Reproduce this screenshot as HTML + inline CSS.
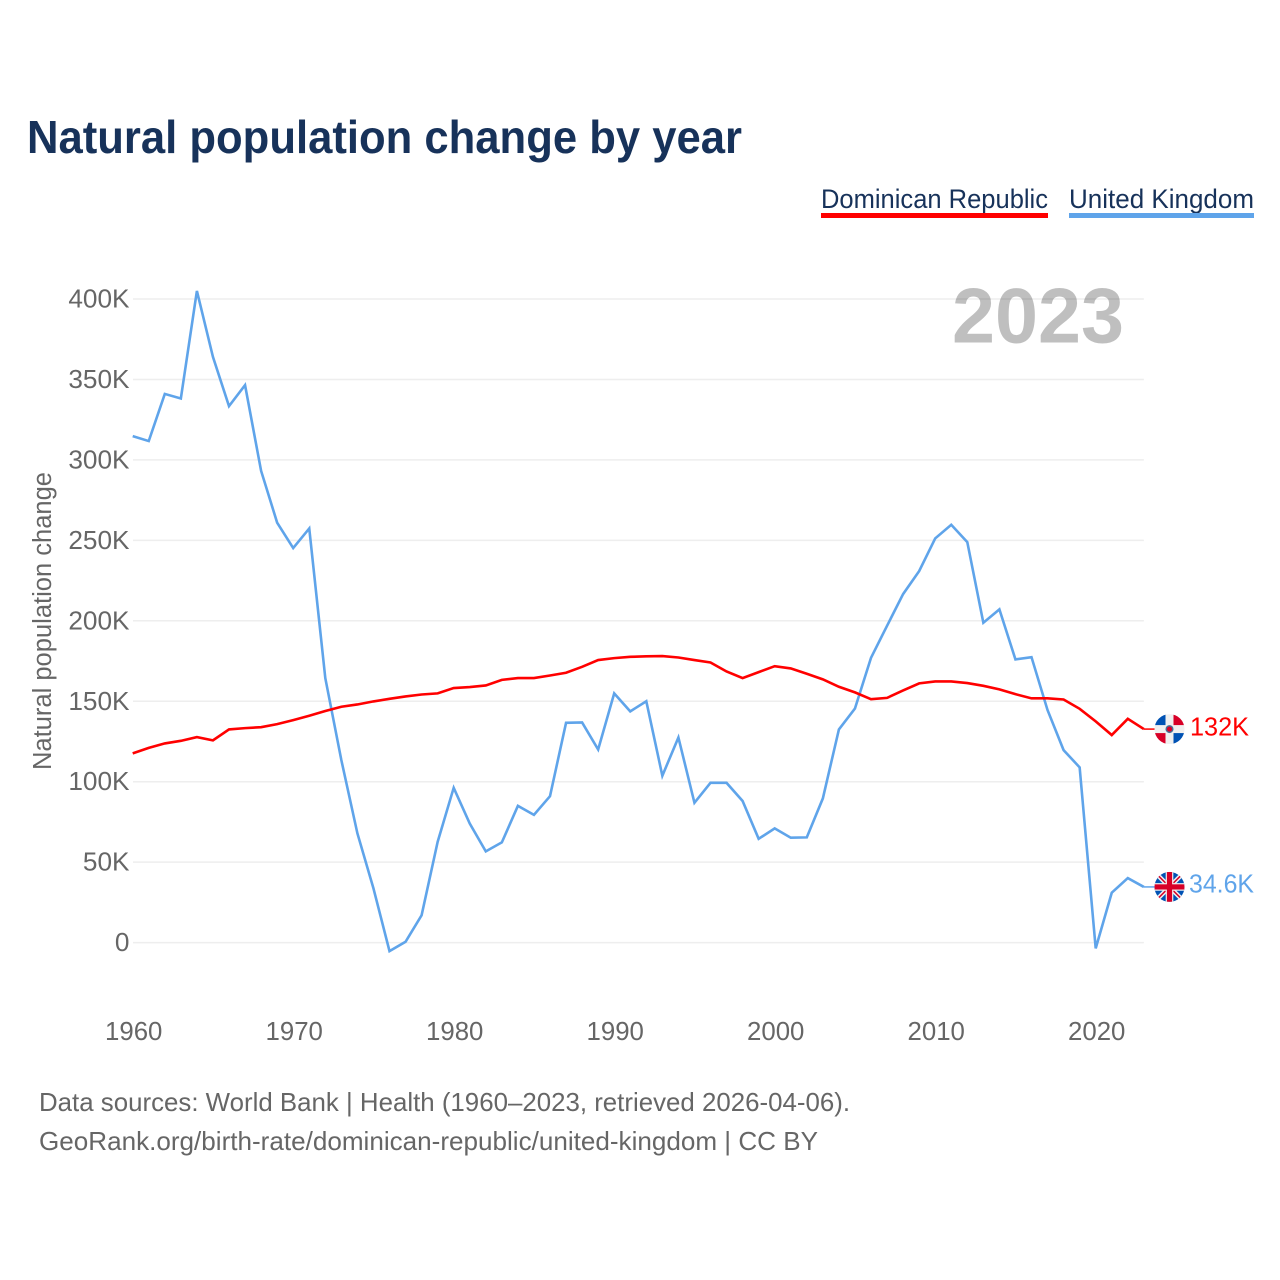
<!DOCTYPE html>
<html lang="en">
<head>
<meta charset="utf-8">
<title>Natural population change by year</title>
<style>
  html, body { margin: 0; padding: 0; background: #fff; }
  svg { display: block; font-family: "Liberation Sans", sans-serif; }
</style>
</head>
<body>
<svg id="chart" xmlns="http://www.w3.org/2000/svg" width="1280" height="1280" viewBox="0 0 1280 1280">
  <defs>
    <clipPath id="flag-clip"><circle cx="0" cy="0" r="15"></circle></clipPath>
  </defs>
  <rect width="1280" height="1280" fill="#ffffff"></rect>
  <text x="27" y="153" font-size="46" font-weight="700" fill="#17325a" textLength="715" lengthAdjust="spacingAndGlyphs">Natural population change by year</text>

  <g>
    <g>
      <text x="821" y="208" font-size="26.5" fill="#17325a" textLength="227" lengthAdjust="spacingAndGlyphs">Dominican Republic</text>
      <rect x="821" y="213" width="227" height="5" fill="#ff0000"></rect>
    </g>
    <g>
      <text x="1069" y="208" font-size="26.5" fill="#17325a" textLength="185" lengthAdjust="spacingAndGlyphs">United Kingdom</text>
      <rect x="1069" y="213" width="185" height="5" fill="#5fa4ea"></rect>
    </g>
  </g>

  <text transform="translate(51,770) rotate(-90)" font-size="25.5" fill="#666666" textLength="298" lengthAdjust="spacingAndGlyphs">Natural population change</text>

  <g id="grid"></g>
  <g id="y-ticks"></g>
  <g id="x-ticks"></g>

  <text x="952" y="342.5" font-size="78" font-weight="700" fill="#000000" fill-opacity="0.25" textLength="172" lengthAdjust="spacingAndGlyphs">2023</text>

  <g id="series"></g>

  <g id="flag-do" clip-path="url(#flag-clip)">
    <rect x="-15" y="-15" width="30" height="30" fill="#f0f0f0"></rect>
    <rect x="-15" y="-15" width="11" height="11" fill="#0052b4"></rect>
    <rect x="4" y="-15" width="11" height="11" fill="#d80027"></rect>
    <rect x="-15" y="4" width="11" height="11" fill="#d80027"></rect>
    <rect x="4" y="4" width="11" height="11" fill="#0052b4"></rect>
    <circle r="4" fill="#496e96"></circle>
    <circle r="2.6" fill="#d80027"></circle>
  </g>
  <g id="flag-uk" clip-path="url(#flag-clip)">
    <rect x="-15" y="-15" width="30" height="30" fill="#0052b4"></rect>
    <path d="M-15 -15L15 15M15 -15L-15 15" stroke="#f0f0f0" stroke-width="4.5"></path>
    <path d="M-15 -15L15 15M15 -15L-15 15" stroke="#d80027" stroke-width="1.5"></path>
    <rect x="-15" y="-3.8" width="30" height="7.6" fill="#f0f0f0"></rect>
    <rect x="-3.8" y="-15" width="7.6" height="30" fill="#f0f0f0"></rect>
    <rect x="-15" y="-2.6" width="30" height="5.2" fill="#d80027"></rect>
    <rect x="-2.6" y="-15" width="5.2" height="30" fill="#d80027"></rect>
  </g>

  <g font-size="26" fill="#666666">
    <text x="39" y="1111" textLength="811" lengthAdjust="spacingAndGlyphs">Data sources: World Bank | Health (1960–2023, retrieved 2026-04-06).</text>
    <text x="39" y="1150" textLength="779" lengthAdjust="spacingAndGlyphs">GeoRank.org/birth-rate/dominican-republic/united-kingdom | CC BY</text>
  </g>
</svg>

<script>
// Chart data, values in thousands
const startYear = 1960;
const xTickYears = [1960, 1970, 1980, 1990, 2000, 2010, 2020];
const yTickValues = [0, 50, 100, 150, 200, 250, 300, 350, 400];
const yTickLabels = ["0", "50K", "100K", "150K", "200K", "250K", "300K", "350K", "400K"];
const dominicanRepublic = [
  117.6, 121, 123.8, 125.4, 127.7, 125.7, 132.5, 133.3, 133.9, 135.8,
  138.3, 141, 143.9, 146.6, 148, 149.9, 151.5, 153, 154.2, 154.9,
  158.2, 158.8, 159.8, 163.3, 164.4, 164.4, 166, 167.7, 171.4, 175.6,
  176.8, 177.6, 177.9, 178.1, 177.2, 175.6, 174.1, 168.5, 164.4, 168.1,
  171.8, 170.4, 167.1, 163.6, 159, 155.5, 151.3, 152.1, 156.7, 161.1,
  162.3, 162.3, 161.3, 159.6, 157.4, 154.4, 151.8, 151.8, 151.1, 145.3,
  137.5, 129, 139.1, 132.7
];
const unitedKingdom = [
  314.8, 311.7, 341, 338.2, 405, 364, 333.4, 346.5, 293.2, 261,
  245.2, 257.4, 164.4, 113.4, 67.9, 33.7, -5.3, 0.5, 17, 62.6,
  96.2, 74, 56.7, 62.3, 85, 79.4, 91, 136.6, 136.8, 120,
  154.9, 143.7, 150, 103.7, 127.5, 86.9, 99.3, 99.3, 88, 64.5,
  71, 65.2, 65.4, 89.6, 132.5, 145.5, 177, 196.9, 216.6, 230.9,
  251.2, 259.7, 248.9, 198.8, 207.1, 176, 177.4, 144.5, 119.6, 108.9,
  -3.6, 31, 40.1, 34.6
];
const endLabels = ["132K", "34.6K"];

// Axis functions
function xScale(year) { return 132.7 + (year - 1960) * 16.05; }
function yScale(value) { return 942.6 - value * 1.609; }

const NS = "http://www.w3.org/2000/svg";
function make(tag, parent, attrs, txt) {
  const el = document.createElementNS(NS, tag);
  Object.keys(attrs).forEach(function (k) { el.setAttribute(k, attrs[k]); });
  if (txt !== undefined) el.textContent = txt;
  parent.appendChild(el);
  return el;
}

const gridGroup = document.getElementById("grid");
const yTickGroup = document.getElementById("y-ticks");
const xTickGroup = document.getElementById("x-ticks");
const seriesGroup = document.getElementById("series");
const chartRoot = document.getElementById("chart");
const lastYear = startYear + unitedKingdom.length - 1;

yTickValues.forEach(function (v, i) {
  const line = make("line", gridGroup, { x1: 133, x2: xScale(lastYear), y1: yScale(v), y2: yScale(v), stroke: "#eeeeee", "stroke-width": 1.5 });
  
  
  const label = make("text", yTickGroup, { x: 129.5, y: yScale(v) + 8.5, "text-anchor": "end", "font-size": 26.2, fill: "#666666" }, yTickLabels[i]);
  
  
});

xTickYears.forEach(function (yr) {
  const label = make("text", xTickGroup, { x: xScale(yr) + 1, y: 1040, "text-anchor": "middle", "font-size": 25.8, fill: "#666666" }, String(yr));
  
  
});

function linePoints(values) {
  return values.map(function (v, i) {
    return xScale(startYear + i).toFixed(2) + "," + yScale(v).toFixed(2);
  }).join(" ");
}

// United Kingdom series
const ukLine = make("polyline", seriesGroup, { points: linePoints(unitedKingdom), fill: "none", stroke: "#5fa4ea", "stroke-width": 2.6, "stroke-linejoin": "miter" });



// Dominican Republic series
const doLine = make("polyline", seriesGroup, { points: linePoints(dominicanRepublic), fill: "none", stroke: "#ff0000", "stroke-width": 2.6, "stroke-linejoin": "miter" });



// End connectors, flags and value labels
const doLast = yScale(dominicanRepublic[dominicanRepublic.length - 1]);
const ukLast = yScale(unitedKingdom[unitedKingdom.length - 1]);

const doConn = make("line", seriesGroup, { x1: xScale(lastYear), x2: 1155, y1: doLast, y2: doLast, stroke: "#ff0000", "stroke-width": 1.5 });



const ukConn = make("line", seriesGroup, { x1: xScale(lastYear), x2: 1155, y1: ukLast, y2: ukLast, stroke: "#5fa4ea", "stroke-width": 1.5 });



document.getElementById("flag-do").setAttribute("transform", "translate(1169.5," + doLast + ")");
document.getElementById("flag-uk").setAttribute("transform", "translate(1169.5," + ukLast + ")");

const doLabel = make("text", chartRoot, { x: 1190, y: doLast + 6.2, "font-size": 25.5, fill: "#ff0000", textLength: 59, lengthAdjust: "spacingAndGlyphs" }, endLabels[0]);



const ukLabel = make("text", chartRoot, { x: 1189, y: ukLast + 5.8, "font-size": 25.5, fill: "#5fa4ea", textLength: 65, lengthAdjust: "spacingAndGlyphs" }, endLabels[1]);


</script>
</body>
</html>
